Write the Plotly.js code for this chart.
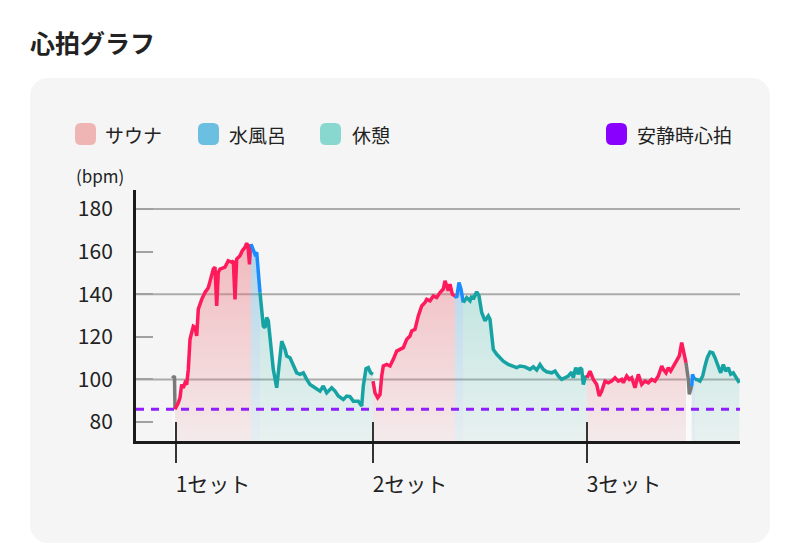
<!DOCTYPE html>
<html><head><meta charset="utf-8">
<script src="https://cdn.plot.ly/plotly-3.0.1.min.js"></script>
<style>
html,body{margin:0;padding:0;background:#fff;width:800px;height:546px;overflow:hidden;font-family:"Noto Sans CJK JP","Noto Sans",sans-serif;}
#title{position:absolute;left:30px;top:25px;font-size:25px;font-weight:700;color:#222;line-height:34px;margin:0;}
#card{position:absolute;left:30px;top:78px;width:740px;height:465px;background:#f5f5f5;border-radius:18px;}
#chart{position:absolute;left:0;top:0;width:800px;height:546px;}
</style></head><body>
<h1 id="title">心拍グラフ</h1>
<div id="card"></div>
<div id="chart"></div>
<script>
// ---- data (time in minutes from set 1 start, heart rate in bpm) ----
const gray1T  = [-0.3, -0.25, -0.15, -0.1];
const gray1HR = [100.5, 101.5, 101, 86];
const sauna1T  = [-0.1,0.23,0.4,0.57,0.73,0.9,1.07,1.23,1.4,1.73,1.9,2.07,2.23,2.57,2.9,3.23,3.4,3.73,3.9,4.07,4.23,4.4,4.9,5.23,5.57,5.73,5.9,6.07,6.4,6.63,6.9,7.07,7.2,7.35,7.5];
const sauna1HR = [86,89,91.5,97.6,96,98.4,97.6,104.7,118.8,125,124.5,120.4,133,137.6,140.8,143,146,151.8,152.7,134.5,150.2,151.8,152.7,155.7,155,155.7,137.6,156.5,158,160.4,162,164,162.5,154,163.5];
const water1T  = [7.5,7.73,7.9,8.07,8.23,8.4];
const water1HR = [163.5,160.4,158.8,159.6,150.2,140.8];
const rest1T  = [8.4,8.57,8.73,8.9,9.07,9.23,9.4,9.73,10.07,10.4,10.57,10.9,11.07,11.4,11.73,12.07,12.4,12.73,13.07,13.4,13.9,14.4,14.73,15.07,15.57,15.9,16.23,16.73,17.07,17.4,17.73,18.23,18.57,18.73,19.0,19.23,19.47,19.7];
const rest1HR = [140.8,133,125,124.3,129,127.5,120.4,104.7,96.1,109.4,118,114.1,111,110.2,106.3,103.1,102.4,103.1,100,97.6,96.1,94.5,96.9,93.7,96.1,94.5,92.2,90.6,92.2,91.9,89.8,89.8,87.5,96.9,105,105.5,103,102.4];
const sauna2T  = [19.7,19.9,20.17,20.4,20.57,20.73,21.07,21.4,21.73,22.07,22.4,22.73,23.07,23.4,23.57,23.9,24.23,24.57,24.9,25.07,25.4,25.73,26.07,26.4,26.73,26.9,27.07,27.23,27.4,27.63,27.9];
const sauna2HR = [99.2,93.7,91.4,92.9,101.6,106.3,107,106.3,109.4,113.3,114.1,114.9,118.8,120.4,122.7,123.5,129.8,134.5,136.1,137.6,136.9,139.2,138.4,140.8,142.4,146.3,143.9,141.6,144.7,140,139.2];
const water2T  = [27.9,28.07,28.3,28.5,28.73];
const water2HR = [139.2,138.4,145.5,142.4,136.1];
const rest2T  = [28.73,29.07,29.4,29.57,29.73,30.07,30.3,30.57,30.9,31.23,31.4,31.73,32.07,32.4,32.73,33.23,33.73,34.07,34.4,34.9,35.4,35.73,36.07,36.4,36.73,37.07,37.57,37.9,38.23,38.57,38.9,39.23,39.57,39.73,39.97,40.23,40.4,40.57,40.73,40.97,41.1];
const rest2HR = [136.1,138.4,136.9,139.2,137.6,141.1,139.2,131.4,127.5,129.8,128.2,114.1,111.8,110.2,108.6,107,106.3,105.5,106.3,105.9,104.7,105.9,104.4,107,104.7,103.6,103.1,103.9,101.6,100,100.8,101.6,103.4,100.8,105.5,102.4,105.5,104.7,97.6,101.6,100.8];
const sauna3T  = [41.1,41.4,41.73,42.07,42.33,42.57,42.9,43.23,43.57,43.9,44.23,44.57,44.73,45.07,45.33,45.57,45.9,46.23,46.57,46.9,47.23,47.57,47.9,48.23,48.57,48.73,49.0,49.23,49.47,49.73,50.07,50.33,50.57,50.8,51.0];
const sauna3HR = [100.8,103.9,100,97.6,92.2,94.5,99.2,98.4,99.2,100.8,99.2,100,98.4,101.6,100,100.8,96.1,102.4,97.6,99.2,98.4,100,99.2,101.6,106.3,104.7,103.1,105.5,103.9,106.3,109.4,111,117.3,111.8,107.8];
const gray2T  = [51.0,51.23,51.33,51.57];
const gray2HR = [107.8,100,93,96.9];
const water3T  = [51.57,51.65,51.75,51.9];
const water3HR = [96.9,102.4,101,100];
const rest3T  = [51.9,52.07,52.4,52.67,52.9,53.13,53.4,53.67,53.9,54.23,54.47,54.73,54.97,55.23,55.47,55.73,56.07,56.33];
const rest3HR = [100,100,99.2,101.6,106.3,110.2,112.8,112.5,110.2,106.3,103.1,107,103.9,105.5,102.4,103.1,100.8,98.4];

const restingHR = 86;
const setTicks  = [0, 19.7, 41.1];
const setLabels = ['1セット', '2セット', '3セット'];
const yTicks    = [80, 100, 120, 140, 160, 180];
const gridVals  = [100, 140, 180];
const xRange    = [-4.0, 56.4];
const yRange    = [71.1, 188.9];

const legendNames = ['サウナ', '水風呂', '休憩'];
const restLegend  = '安静時心拍';

// ---- styles ----
const styles = {
  sauna: {line:'#ff1a5c', lo:'rgba(235,110,120,0.08)', hi:'rgba(235,110,120,0.45)'},
  water: {line:'#1a8cff', lo:'rgba(90,170,215,0.10)',  hi:'rgba(90,170,215,0.45)'},
  rest:  {line:'#17a3a3', lo:'rgba(80,195,180,0.08)',  hi:'rgba(80,195,180,0.38)'},
  gray:  {line:'#7a7a7a', lo:'rgba(255,255,255,0.5)',  hi:'rgba(255,255,255,0.5)'}
};
const segments = [
  ['gray', gray1T, gray1HR], ['sauna', sauna1T, sauna1HR], ['water', water1T, water1HR], ['rest', rest1T, rest1HR],
  ['sauna', sauna2T, sauna2HR], ['water', water2T, water2HR], ['rest', rest2T, rest2HR],
  ['sauna', sauna3T, sauna3HR], ['gray', gray2T, gray2HR], ['water', water3T, water3HR], ['rest', rest3T, rest3HR]
];

const traces = segments.map(([ph, t, hr]) => ({
  type:'scatter', mode:'lines', x:t, y:hr,
  line:{color:styles[ph].line, width:3.5},
  fill:'tozeroy',
  fillgradient:{type:'vertical', start:yRange[0], stop:165, colorscale:[[0, styles[ph].lo],[1, styles[ph].hi]]},
  showlegend:false, hoverinfo:'skip'
}));
traces.push({
  type:'scatter', mode:'lines', x:xRange, y:[restingHR, restingHR],
  line:{color:'#8f1fff', width:3, dash:'8px,7px'}, showlegend:false, hoverinfo:'skip'
});

// ---- legend (swatches + text) ----
const L = 136, T = 190;
function rr(x0, x1, yTop, yBot, r) {
  const y0 = T - yBot, y1 = T - yTop, a = x0 - L, b = x1 - L;
  return `M ${a+r},${y0} L ${b-r},${y0} Q ${b},${y0} ${b},${y0+r} L ${b},${y1-r} Q ${b},${y1} ${b-r},${y1} L ${a+r},${y1} Q ${a},${y1} ${a},${y1-r} L ${a},${y0+r} Q ${a},${y0} ${a+r},${y0} Z`;
}
const swatchColors = ['#efb5b5', '#6bbfe0', '#88d8cf', '#8a00ff'];
const swatchX = [75, 198, 320, 606];
const textX = [103, 227, 350, 635];
const legendTexts = legendNames.concat([restLegend]);

const shapes = [];
gridVals.forEach(v => shapes.push({type:'line', xref:'paper', x0:0, x1:1, yref:'y', y0:v, y1:v, line:{color:'#ababab', width:2}, layer:'below'}));
setTicks.forEach(t => shapes.push({type:'line', xref:'x', x0:t, x1:t, yref:'paper', ysizemode:'pixel', yanchor:0, y0:0, y1:19, line:{color:'#333', width:2}, layer:'above'}));
swatchColors.forEach((c, i) => shapes.push({
  type:'path', xref:'paper', xsizemode:'pixel', xanchor:0, yref:'paper', ysizemode:'pixel', yanchor:1,
  path: rr(swatchX[i], swatchX[i] + 21, 123, 145, 6), fillcolor:c, line:{width:0}, layer:'above'
}));

const annotations = legendTexts.map((s, i) => ({
  text:s, xref:'paper', x:0, xanchor:'left', xshift:textX[i] - L,
  yref:'paper', y:1, yanchor:'middle', yshift:T - 134, showarrow:false,
  font:{size:19, color:'#222', family:'"Noto Sans CJK JP", sans-serif'}
}));
annotations.push({
  text:'(bpm)', xref:'paper', x:0, xanchor:'left', xshift:74 - L,
  yref:'paper', y:1, yanchor:'middle', yshift:T - 175, showarrow:false,
  font:{size:17, color:'#222', family:'"Noto Sans CJK JP", sans-serif'}
});

const layout = {
  width:800, height:546,
  margin:{l:136, r:60, t:190, b:105},
  paper_bgcolor:'rgba(0,0,0,0)', plot_bgcolor:'rgba(0,0,0,0)',
  font:{family:'"Noto Sans CJK JP", sans-serif', color:'#222'},
  showlegend:false,
  xaxis:{
    range:xRange, tickmode:'array', tickvals:setTicks, ticktext:setLabels,
    ticks:'outside', ticklen:19, tickwidth:2, tickcolor:'#333',
    showline:true, linecolor:'#1a1a1a', linewidth:3, showgrid:false, zeroline:false,
    tickfont:{size:21, color:'#222'}, ticklabelshift:37, ticklabelstandoff:4
  },
  yaxis:{
    range:yRange, tickmode:'array', tickvals:yTicks,
    ticks:'inside', ticklen:17, tickwidth:2, tickcolor:'#a0a0a0',
    showline:true, linecolor:'#1a1a1a', linewidth:3, showgrid:false, zeroline:false,
    tickfont:{size:21, color:'#222'}, ticklabelstandoff:16
  },
  shapes:shapes, annotations:annotations
};
Plotly.newPlot('chart', traces, layout, {staticPlot:true, displayModeBar:false});
</script>
</body></html>
